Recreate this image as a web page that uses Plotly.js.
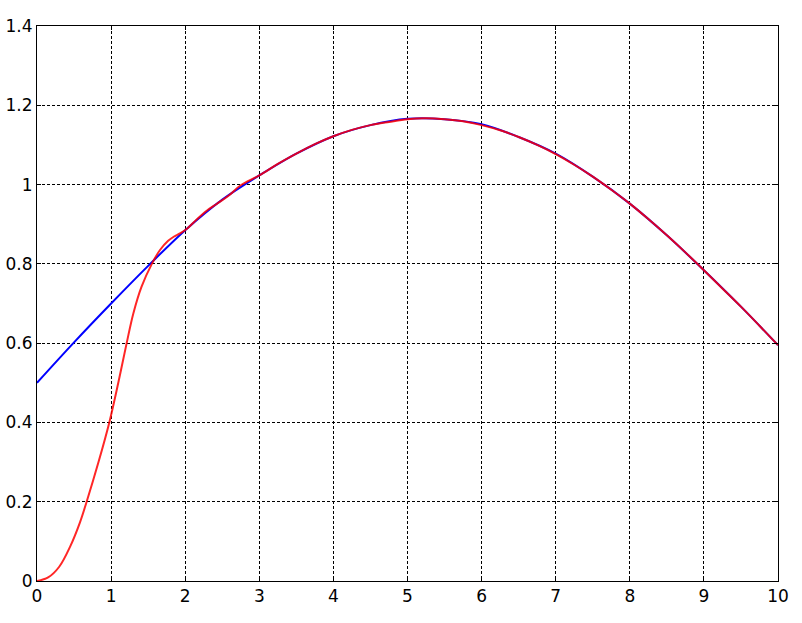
<!DOCTYPE html>
<html>
<head>
<meta charset="utf-8">
<script src="https://cdn.plot.ly/plotly-3.0.1.min.js"></script>
<style>html,body{margin:0;padding:0;background:#fff;}#chart{width:802px;height:623px;}</style>
</head>
<body>
<div id="chart"></div>
<script>
// Blue (smooth) series
const blueX = [0, 0.5, 1, 1.5, 2, 2.5, 3, 3.5, 4, 4.5, 5, 5.5, 6, 6.5, 7, 7.5, 8, 8.5, 9, 9.5, 10];
const blueY = [0.50, 0.602, 0.70, 0.795, 0.885, 0.962, 1.023, 1.078, 1.122, 1.150, 1.166, 1.165, 1.152, 1.120, 1.078, 1.020, 0.952, 0.872, 0.784, 0.692, 0.595];

// Red (estimated) series
const redX = [0, 0.15, 0.3, 0.45, 0.58, 0.67, 0.83, 0.976, 1.097, 1.21, 1.30, 1.41, 1.55, 1.66, 1.77, 1.85, 1.93, 2.02, 2.155, 2.29, 2.425, 2.58, 2.74, 3, 3.25, 3.5, 3.75, 4, 4.25, 4.5, 4.75, 5, 5.25, 5.5, 5.75, 6, 6.25, 6.5, 6.75, 7, 7.25, 7.5, 7.75, 8, 8.25, 8.5, 8.75, 9, 9.25, 9.5, 9.75, 10];
const redY = [0, 0.009, 0.036, 0.088, 0.148, 0.20, 0.30, 0.40, 0.50, 0.60, 0.675, 0.742, 0.80, 0.835, 0.858, 0.869, 0.877, 0.888, 0.912, 0.934, 0.951, 0.971, 0.997, 1.023, 1.052, 1.078, 1.102, 1.122, 1.138, 1.150, 1.158, 1.165, 1.167, 1.165, 1.160, 1.150, 1.137, 1.120, 1.100, 1.077, 1.050, 1.020, 0.987, 0.952, 0.913, 0.872, 0.829, 0.784, 0.738, 0.692, 0.644, 0.595];

const xTicks = [0, 1, 2, 3, 4, 5, 6, 7, 8, 9, 10];
const xTickText = ['0', '1', '2', '3', '4', '5', '6', '7', '8', '9', '10'];
const yTicks = [0, 0.2, 0.4, 0.6, 0.8, 1, 1.2, 1.4];
const yTickText = ['0', '0.2', '0.4', '0.6', '0.8', '1', '1.2', '1.4'];

const traces = [
  {x: blueX, y: blueY, type: 'scatter', mode: 'lines', line: {color: 'rgb(0,0,255)', width: 2, shape: 'spline', smoothing: 1}, hoverinfo: 'skip'},
  {x: redX, y: redY, type: 'scatter', mode: 'lines', line: {color: 'rgba(255,0,0,0.85)', width: 2, shape: 'spline', smoothing: 1}, hoverinfo: 'skip'}
];

const axisCommon = {
  showline: true, linecolor: 'black', linewidth: 1, mirror: 'ticks',
  ticks: 'inside', ticklen: 4, tickwidth: 1, tickcolor: 'black',
  showgrid: true, gridcolor: 'black', gridwidth: 1, griddash: '3px,2px',
  zeroline: false, tickfont: {family: 'DejaVu Sans', size: 17, color: 'black'}
};

const layout = {
  width: 802, height: 623,
  margin: {l: 37, r: 24, t: 25.7, b: 42, pad: 0},
  paper_bgcolor: 'white', plot_bgcolor: 'white',
  showlegend: false,
  font: {family: 'DejaVu Sans', color: 'black'},
  xaxis: Object.assign({}, axisCommon, {range: [0, 10], tickmode: 'array', tickvals: xTicks, ticktext: xTickText}),
  yaxis: Object.assign({}, axisCommon, {range: [0, 1.4], tickmode: 'array', tickvals: yTicks, ticktext: yTickText})
};

Plotly.newPlot('chart', traces, layout, {displayModeBar: false, staticPlot: true});
</script>
</body>
</html>
